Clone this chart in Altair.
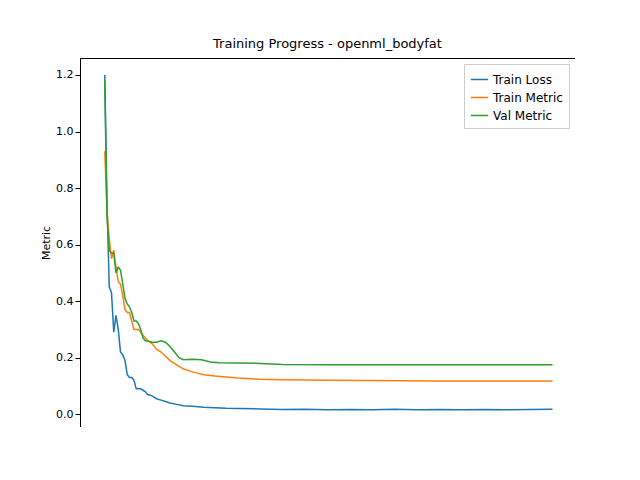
import altair as alt
import pandas as pd

# Epoch / value pairs
loss_x = [1, 2, 3, 4, 5, 6, 7, 8, 9, 10, 11, 12, 13, 14, 15, 16, 17, 18, 19, 20,
          22, 24, 26, 28, 30, 33, 36, 40, 45, 50, 55, 60, 70, 80, 90, 100, 110, 120,
          130, 140, 150, 160, 170, 180, 190, 200]
loss_y = [1.20, 0.75, 0.45, 0.43, 0.29, 0.35, 0.30, 0.22, 0.21, 0.19, 0.14, 0.13, 0.13,
          0.12, 0.09, 0.09, 0.09, 0.085, 0.08, 0.07, 0.065, 0.055, 0.05, 0.045, 0.04,
          0.035, 0.03, 0.028, 0.025, 0.023, 0.021, 0.02, 0.019, 0.017, 0.018, 0.016,
          0.017, 0.016, 0.018, 0.016, 0.017, 0.016, 0.017, 0.016, 0.017, 0.018]

tm_x = [1, 2, 3, 4, 5, 6, 7, 8, 9, 10, 11, 12, 13, 14, 15, 16, 17, 18, 19, 20,
        22, 24, 26, 28, 30, 33, 36, 40, 45, 50, 60, 70, 80, 100, 150, 200]
tm_y = [0.93, 0.72, 0.62, 0.55, 0.58, 0.52, 0.47, 0.46, 0.42, 0.37, 0.36, 0.36, 0.33,
        0.30, 0.30, 0.30, 0.29, 0.28, 0.27, 0.26, 0.25, 0.23, 0.22, 0.205, 0.19, 0.175,
        0.16, 0.15, 0.14, 0.135, 0.128, 0.124, 0.122, 0.12, 0.118, 0.118]

vm_x = [1, 2, 3, 4, 5, 6, 7, 8, 9, 10, 11, 12, 13, 14, 15, 16, 17, 18, 19, 20,
        22, 24, 26, 28, 30, 32, 34, 36, 40, 44, 48, 52, 60, 70, 80, 100, 150, 200]
vm_y = [1.18, 0.70, 0.58, 0.57, 0.57, 0.50, 0.52, 0.51, 0.46, 0.41, 0.39, 0.38, 0.36,
        0.33, 0.33, 0.32, 0.30, 0.27, 0.26, 0.26, 0.255, 0.255, 0.26, 0.255, 0.24, 0.22,
        0.20, 0.193, 0.195, 0.193, 0.185, 0.182, 0.181, 0.18, 0.176, 0.175, 0.175, 0.175]

series = ['Train Loss', 'Train Metric', 'Val Metric']
colors = ['#1f77b4', '#ff7f0e', '#2ca02c']

df = pd.concat([
    pd.DataFrame({'epoch': loss_x, 'value': loss_y, 'series': series[0]}),
    pd.DataFrame({'epoch': tm_x, 'value': tm_y, 'series': series[1]}),
    pd.DataFrame({'epoch': vm_x, 'value': vm_y, 'series': series[2]}),
])

chart = alt.Chart(df).mark_line(strokeWidth=1.5).encode(
    x=alt.X('epoch:Q', title='Epochs', scale=alt.Scale(domain=[-10, 210], nice=False),
            axis=alt.Axis(values=list(range(0, 201, 25)), grid=False)),
    y=alt.Y('value:Q', title='Metric', scale=alt.Scale(domain=[-0.045, 1.26], nice=False),
            axis=alt.Axis(values=[0, 0.2, 0.4, 0.6, 0.8, 1.0, 1.2], format='.1f', grid=False)),
    color=alt.Color('series:N', sort=series, scale=alt.Scale(domain=series, range=colors),
                    legend=alt.Legend(title=None, orient='top-right', symbolType='stroke',
                                      strokeColor='#cccccc', fillColor='white', padding=6,
                                      labelFontSize=12, symbolSize=300, offset=6)),
).properties(
    width=495, height=369, title='Training Progress - openml_bodyfat',
    autosize=alt.AutoSizeParams(type='none'),
    padding={'left': 72, 'top': 50, 'right': 0, 'bottom': 0}
).configure_axis(
    labelFontSize=11, titleFontSize=11, labelFont='DejaVu Sans', titleFont='DejaVu Sans',
    titleFontWeight='normal', domainColor='black', tickColor='black', labelColor='black'
).configure_legend(labelFont='DejaVu Sans').configure_title(
    font='DejaVu Sans', fontSize=13, fontWeight='normal', offset=7
).configure_view(stroke='black')

chart.save("out.html", embed_options={"renderer": "svg", "actions": False})
